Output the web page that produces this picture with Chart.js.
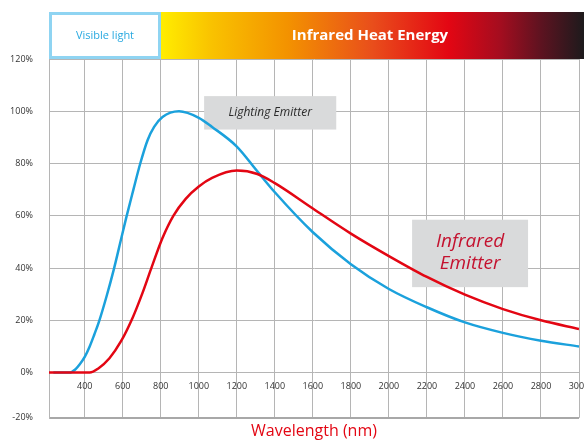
<!DOCTYPE html>
<html>
<head>
<meta charset="utf-8">
<script src="https://cdn.jsdelivr.net/npm/chart.js@4.4.1/dist/chart.umd.min.js"></script>
<style>
  html, body { margin: 0; padding: 0; background: #fff; }
  #wrap { width: 584px; height: 443px; }
</style>
</head>
<body>
<div id="wrap"><canvas id="spectrumChart"></canvas></div>
<script>
// lighting emitter (blue curve): wavelength in nm / relative output in %
const lightingNm  = [235, 320, 350, 374, 400, 426, 450, 475, 516, 553, 591, 619, 656, 692, 731, 765, 809, 896, 1000, 1070, 1200, 1308, 1400, 1600, 1800, 2000, 2200, 2400, 2600, 2800, 3000];
const lightingPct = [0, 0, 1.2, 3.2, 6, 10, 14.5, 19.5, 29.5, 39.5, 51, 59.5, 70, 80, 89, 94, 97.8, 100, 97.5, 94, 86.5, 77, 69, 53.7, 41.5, 32, 25, 19.2, 15.2, 12.2, 10];

// infrared emitter (red curve)
const infraredNm  = [212, 300, 400, 426, 470, 530, 591, 652, 704, 748, 809, 866, 931, 1000, 1070, 1200, 1308, 1400, 1600, 1800, 2000, 2200, 2400, 2600, 2800, 3000];
const infraredPct = [0, 0, 0, 0, 1.5, 5.5, 12, 21, 30.5, 39.5, 51.5, 60, 66.5, 71.2, 74.5, 77.3, 76, 72.5, 62.8, 53.2, 44.6, 36.6, 29.8, 24.3, 20, 16.7];

// axes
const xTicks = [400, 600, 800, 1000, 1200, 1400, 1600, 1800, 2000, 2200, 2400, 2600, 2800, 3000];
const yTicks = [-17.3, 0, 20, 40, 60, 80, 100, 120];
const yMin = -17.3, yMax = 120;
const xMin = 212, xMax = 3000;

const gridColor = '#b5b5b5';
const tickFont = { family: 'Open Sans', size: 9 };

function toPoints(xs, ys) {
    return xs.map((x, i) => ({ x: x, y: ys[i] }));
}

// banner on top + the two grey label boxes
const decorPlugin = {
    id: 'decor',
    beforeDatasetsDraw(chart) {
        const c = chart.ctx;
        const area = chart.chartArea;
        const sx = chart.scales.x, sy = chart.scales.y;
        c.save();

        // heat energy gradient banner
        const top = 12, bottom = area.top;
        const split = 161;
        const g = c.createLinearGradient(split, 0, chart.width, 0);
        g.addColorStop(0, '#ffed00');
        g.addColorStop(0.12, '#f9c200');
        g.addColorStop(0.3, '#f39200');
        g.addColorStop(0.5, '#e94e1b');
        g.addColorStop(0.68, '#e30613');
        g.addColorStop(0.8, '#a50d1f');
        g.addColorStop(0.9, '#5c1320');
        g.addColorStop(1, '#1d1a1c');
        c.fillStyle = g;
        c.fillRect(split, top, chart.width - split, bottom - top);

        c.fillStyle = '#fff';
        c.fillRect(area.left, top, split - area.left, bottom - top);
        c.strokeStyle = '#8fd4f2';
        c.lineWidth = 3;
        c.strokeRect(area.left + 1.5, top + 1.5, split - area.left - 3, bottom - top - 3);

        c.textAlign = 'center';
        c.textBaseline = 'middle';
        c.fillStyle = '#29a9e0';
        c.font = '11px "Open Sans"';
        c.fillText('Visible light', (area.left + split) / 2, (top + bottom) / 2);
        c.fillStyle = '#fff';
        c.font = 'bold 15px "Open Sans"';
        c.fillText('Infrared Heat Energy', 370, (top + bottom) / 2);

        // Lighting Emitter label
        c.fillStyle = '#d9dadb';
        let x1 = sx.getPixelForValue(1028), x2 = sx.getPixelForValue(1723);
        let y1 = sy.getPixelForValue(105.8), y2 = sy.getPixelForValue(93);
        c.fillRect(x1, y1, x2 - x1, y2 - y1);
        c.fillStyle = '#2b2b2b';
        c.font = 'italic 12px "Open Sans"';
        c.fillText('Lighting Emitter', (x1 + x2) / 2, (y1 + y2) / 2);

        // Infrared Emitter label
        c.fillStyle = '#d9dadb';
        x1 = sx.getPixelForValue(2122); x2 = sx.getPixelForValue(2732);
        y1 = sy.getPixelForValue(58.5); y2 = sy.getPixelForValue(32.7);
        c.fillRect(x1, y1, x2 - x1, y2 - y1);
        c.fillStyle = '#c4122f';
        c.font = 'italic 19px "Open Sans"';
        c.fillText('Infrared', (x1 + x2) / 2, sy.getPixelForValue(50));
        c.fillText('Emitter', (x1 + x2) / 2, sy.getPixelForValue(41.7));

        c.restore();
    }
};

const ctx = document.getElementById('spectrumChart').getContext('2d');
const spectrumChart = new Chart(ctx, {
    type: 'line',
    data: {
        datasets: [{
            label: 'Infrared Emitter',
            data: toPoints(infraredNm, infraredPct),
            borderColor: '#e30613',
            borderWidth: 2.5,
            pointRadius: 0,
            cubicInterpolationMode: 'monotone'
        }, {
            label: 'Lighting Emitter',
            data: toPoints(lightingNm, lightingPct),
            borderColor: '#1ba1dc',
            borderWidth: 2.5,
            pointRadius: 0,
            cubicInterpolationMode: 'monotone'
        }]
    },
    options: {
        responsive: true,
        maintainAspectRatio: false,
        animation: false,
        layout: { padding: { top: 59, right: 5, left: 0, bottom: 0 } },
        plugins: {
            legend: { display: false },
            tooltip: { enabled: false },
            title: {
                display: true,
                position: 'bottom',
                fullSize: false,
                text: 'Wavelength (nm)',
                color: '#e30613',
                font: { family: 'Open Sans', size: 16, weight: 'normal' },
                padding: { top: 4, bottom: 2 }
            }
        },
        scales: {
            x: {
                type: 'linear',
                min: xMin,
                max: xMax,
                position: { y: 0 },
                afterBuildTicks: (scale) => { scale.ticks = xTicks.map(v => ({ value: v })); },
                afterFit: (scale) => { scale.paddingRight = 0; scale.paddingLeft = 0; },
                ticks: {
                    color: '#333',
                    font: tickFont,
                    padding: 8,
                    maxRotation: 0,
                    autoSkip: false,
                    callback: (v) => String(v)
                },
                grid: { color: gridColor, lineWidth: 1, drawTicks: false },
                border: { display: false }
            },
            y: {
                min: yMin,
                max: yMax,
                afterBuildTicks: (scale) => { scale.ticks = yTicks.map(v => ({ value: v })); },
                afterFit: (scale) => { scale.width = 49; },
                ticks: {
                    color: '#333',
                    font: tickFont,
                    padding: 16,
                    callback: (v) => (v === yMin ? -20 : v) + '%'
                },
                grid: {
                    color: (c) => c.index === 0 ? '#a8a8a8' : gridColor,
                    lineWidth: (c) => c.index === 0 ? 2 : 1,
                    drawTicks: false
                },
                border: { color: gridColor, width: 1 }
            }
        }
    },
    plugins: [decorPlugin]
});
</script>
</body>
</html>
